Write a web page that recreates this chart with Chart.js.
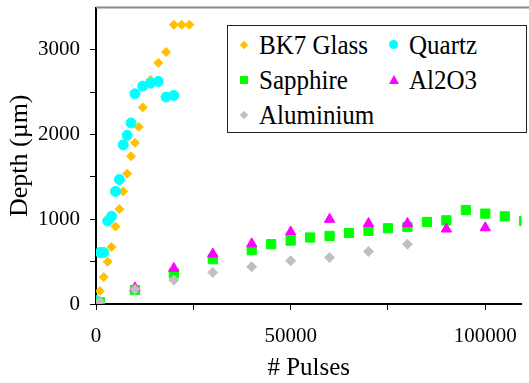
<!DOCTYPE html>
<html>
<head>
<meta charset="utf-8">
<script src="https://cdn.jsdelivr.net/npm/chart.js@4"></script>
<style>
  body { margin: 0; background: #fff; }
  #wrap { position: relative; width: 529px; height: 383px; }
  #legend {
    position: absolute; left: 227px; top: 25px; width: 298px; height: 105px;
    border: 1px solid #222; background: #fff;
    display: grid; grid-template-columns: 150px 148px; grid-auto-rows: 35px;
    padding-top: 1px;
    font-family: "Liberation Serif", "Times New Roman", serif; font-size: 25px; color: #000;
  }
  .item { display: flex; align-items: center; }
  .item .txt { display: inline-block; transform: scaleY(1.12); }
  .mk { width: 31px; display: flex; justify-content: center; align-items: center; }
  .diamond { width: 6px; height: 6px; transform: rotate(45deg); }
  .square { width: 8px; height: 8px; }
  .circle { width: 9px; height: 9px; border-radius: 50%; }
  .triangle { width: 0; height: 0; border-left: 5px solid transparent; border-right: 5px solid transparent; }
</style>
</head>
<body>
<div id="wrap">
  <canvas id="chart" width="529" height="383"></canvas>
  <div id="legend"></div>
</div>
<script>
// Series: [pulses, depth in µm]
const bk7Glass = [
  [1000, 153], [2000, 318], [3000, 498], [4000, 674], [5000, 914], [6000, 1121],
  [7000, 1329], [8000, 1537], [9000, 1745], [10000, 1902], [11000, 2090], [12000, 2321],
  [14000, 2646], [16000, 2846], [18000, 2975], [20000, 3297], [22000, 3297], [24000, 3297]
];
const quartz = [
  [100, 40], [1000, 608], [2000, 608], [3000, 980], [4000, 1035], [5000, 1329],
  [6000, 1470], [7000, 1878], [8000, 1991], [9000, 2137], [10000, 2481], [12000, 2572],
  [14000, 2607], [16000, 2627], [18000, 2443], [20000, 2462]
];
const sapphire = [
  [1000, 20], [10000, 165], [20000, 361], [30000, 529], [40000, 635], [45000, 706],
  [50000, 749], [55000, 785], [60000, 804], [65000, 839], [70000, 862], [75000, 894],
  [80000, 909], [85000, 968], [90000, 988], [95000, 1109], [100000, 1067], [105000, 1035],
  [110000, 980]
];
const al2o3 = [
  [1000, 10], [10000, 190], [20000, 420], [30000, 590], [40000, 710], [50000, 850],
  [60000, 1000], [70000, 950], [80000, 950], [90000, 885], [100000, 900]
];
const aluminium = [
  [1000, 30], [10000, 172], [20000, 282], [30000, 373], [40000, 439], [50000, 510],
  [60000, 549], [70000, 620], [80000, 706]
];

const seriesNames = ['BK7 Glass', 'Quartz', 'Sapphire', 'Al2O3', 'Aluminium'];
const seriesData = [bk7Glass, quartz, sapphire, al2o3, aluminium];
const seriesColors = ['#FFC000', '#00FFFF', '#00FF00', '#FF00FF', '#C0C0C0'];
const seriesStyles = ['rectRot', 'circle', 'rect', 'triangle', 'rectRot'];
const seriesSizes = [4.5, 5, 6.5, 6, 5];

// tick marks; only the values in the label lists get text
const xTicks = [0, 25000, 50000, 75000, 100000];
const xLabels = [0, 50000, 100000];
const yTicks = [0, 500, 1000, 1500, 2000, 2500, 3000];
const yLabels = [0, 1000, 2000, 3000];

const legendShape = { rectRot: 'diamond', circle: 'circle', rect: 'square', triangle: 'triangle' };

const xAxisMax = 109300;
const yAxisMax = 3500;

Chart.defaults.font.family = '"Liberation Serif", "Times New Roman", serif';
Chart.defaults.color = '#000';

const datasets = seriesNames.map((name, i) => ({
  label: name,
  data: seriesData[i].map(p => ({ x: p[0], y: p[1] })),
  pointStyle: seriesStyles[i],
  pointRadius: seriesSizes[i],
  pointHoverRadius: seriesSizes[i],
  backgroundColor: seriesColors[i],
  borderColor: seriesColors[i],
  borderWidth: 1,
  showLine: false,
  order: seriesNames.length - i   // first series at the bottom
}));

const topFrame = {
  id: 'topFrame',
  afterDraw(chart) {
    const { ctx, chartArea } = chart;
    ctx.save();
    ctx.strokeStyle = '#8a8a8a';
    ctx.lineWidth = 2;
    ctx.beginPath();
    ctx.moveTo(chartArea.left, chartArea.top);
    ctx.lineTo(chart.width, chartArea.top);
    ctx.stroke();
    ctx.restore();
  }
};

new Chart(document.getElementById('chart'), {
  type: 'scatter',
  data: { datasets },
  options: {
    responsive: false,
    animation: false,
    layout: { padding: { top: 6, right: 0, left: 0, bottom: 0 } },
    plugins: { legend: { display: false }, tooltip: { enabled: false } },
    scales: {
      x: {
        type: 'linear', min: 0, max: xAxisMax,
        afterBuildTicks(s) { s.ticks = xTicks.map(v => ({ value: v })); },
        afterFit(s) { s.height = 79; s.paddingLeft = 0; s.paddingRight = 0; },
        border: { color: '#000', width: 2 },
        grid: { drawOnChartArea: false, color: '#000', tickLength: 6, tickWidth: 1 },
        ticks: {
          autoSkip: false, maxRotation: 0, padding: 14,
          font: { size: 21 },
          callback: v => (xLabels.includes(v) ? String(v) : '')
        },
        title: { display: true, text: '# Pulses', font: { size: 25 }, padding: { top: 0, bottom: 0 } }
      },
      y: {
        type: 'linear', min: 0, max: yAxisMax,
        afterBuildTicks(s) { s.ticks = yTicks.map(v => ({ value: v })); },
        afterFit(s) { s.width = 96; s.paddingTop = 0; s.paddingBottom = 0; },
        border: { color: '#000', width: 2 },
        grid: { drawOnChartArea: false, color: '#000', tickLength: 6, tickWidth: 1 },
        ticks: {
          autoSkip: false, padding: 10,
          font: { size: 21 },
          callback: v => (yLabels.includes(v) ? String(v) : '')
        },
        title: { display: true, text: 'Depth (µm)', font: { size: 26 }, padding: { top: 5, bottom: 0 } }
      }
    }
  },
  plugins: [topFrame]
});

// HTML legend built from the series arrays (two columns, filled row by row)
const legend = document.getElementById('legend');
seriesNames.forEach((name, i) => {
  const item = document.createElement('div');
  item.className = 'item';
  const mk = document.createElement('span');
  mk.className = 'mk';
  const shape = document.createElement('span');
  shape.className = legendShape[seriesStyles[i]];
  if (shape.className === 'triangle') {
    shape.style.borderBottom = '9px solid ' + seriesColors[i];
  } else {
    shape.style.background = seriesColors[i];
  }
  mk.appendChild(shape);
  const txt = document.createElement('span');
  txt.className = 'txt';
  txt.textContent = name;
  item.appendChild(mk);
  item.appendChild(txt);
  legend.appendChild(item);
});
</script>
</body>
</html>
